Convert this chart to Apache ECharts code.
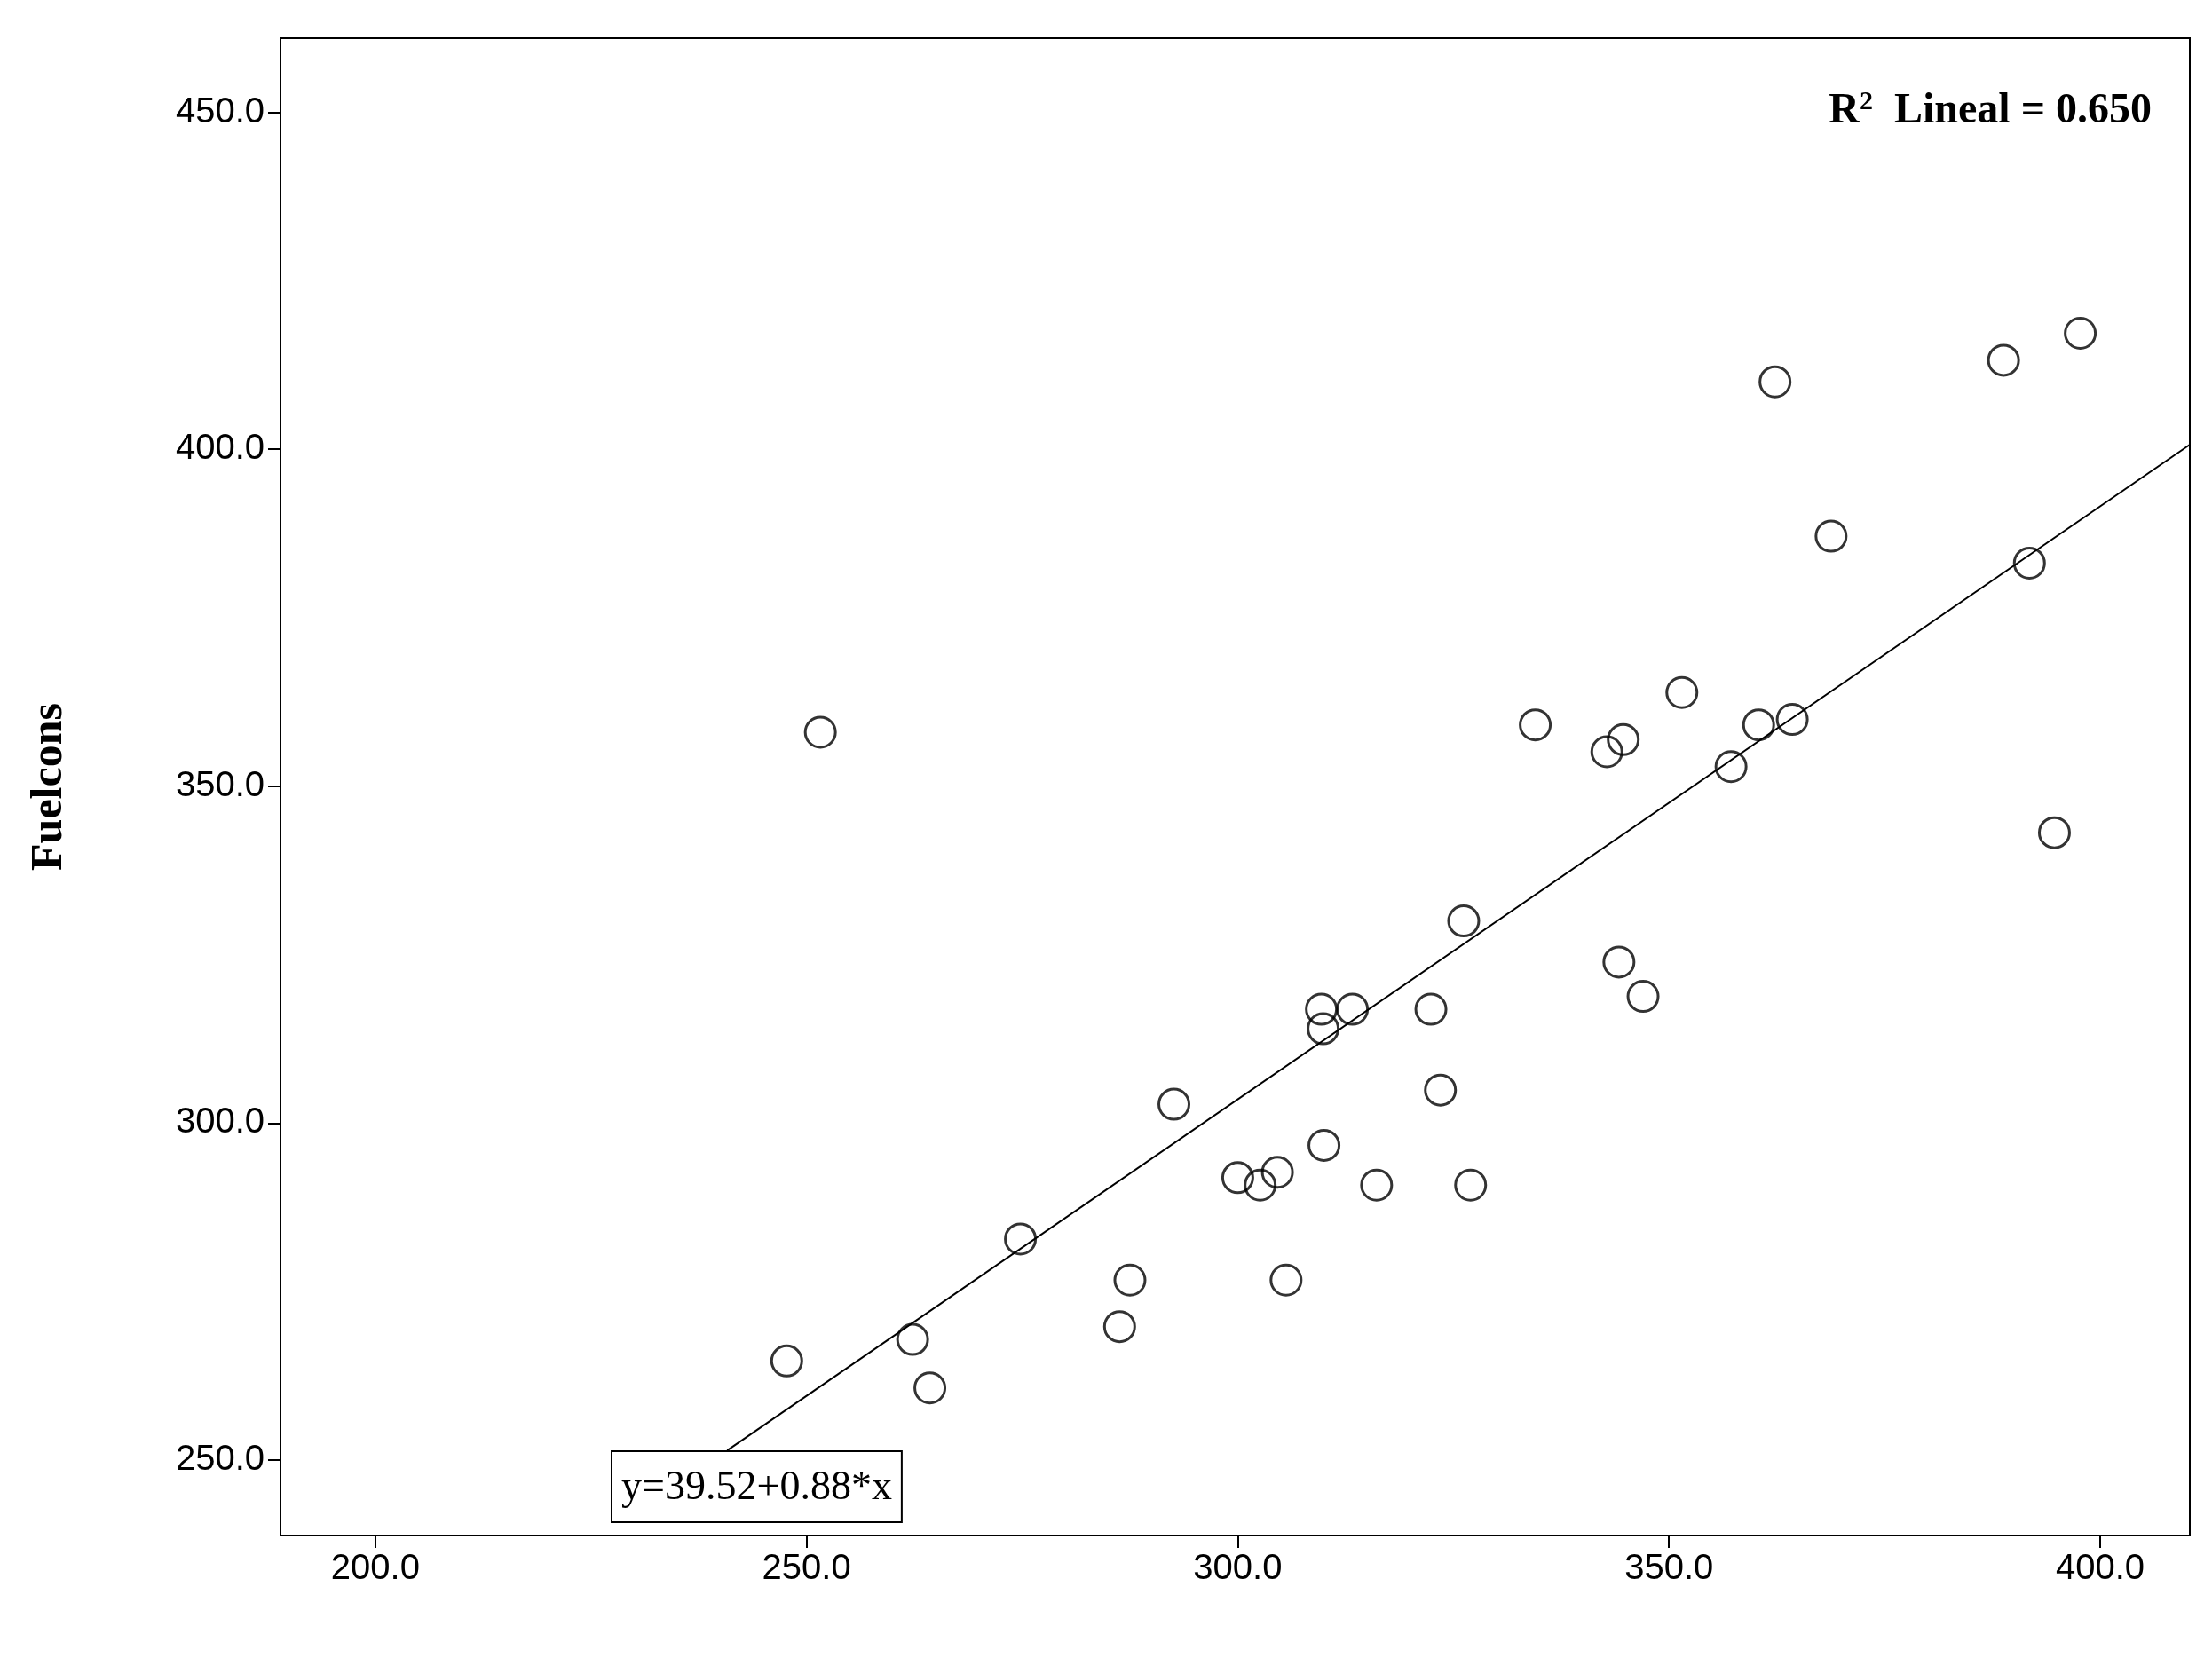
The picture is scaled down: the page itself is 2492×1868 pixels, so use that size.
<!DOCTYPE html>
<html>
<head>
<meta charset="utf-8">
<script src="https://cdn.jsdelivr.net/npm/echarts@6/dist/echarts.min.js"></script>
<style>html,body{margin:0;background:#fff}#chart{width:2492px;height:1868px}</style>
</head>
<body>
<div id="chart"></div>
<script>
// DATA
const xValues = [247.7, 251.6, 262.3, 264.3, 274.8, 286.3, 287.5, 292.6, 300.0, 302.6, 304.6, 305.6, 309.7, 309.9, 310.0, 313.3, 316.1, 322.4, 323.5, 326.2, 327.0, 334.5, 342.8, 344.7, 344.2, 347.0, 351.5, 357.2, 360.4, 364.3, 362.3, 368.8, 388.8, 391.8, 394.7, 397.7];
const yValues = [264.7, 358.0, 267.9, 260.7, 282.8, 269.8, 276.7, 302.8, 291.9, 290.8, 292.7, 276.7, 316.9, 314.0, 296.7, 316.9, 290.8, 316.9, 304.9, 330.0, 290.8, 359.1, 355.1, 356.9, 323.9, 318.8, 363.9, 352.9, 359.1, 359.9, 410.0, 387.1, 413.2, 383.1, 343.1, 417.2];
const xTicks = [200, 250, 300, 350, 400];
const yTicks = [250, 300, 350, 400, 450];
const fitIntercept = 39.52;
const fitSlope = 0.88;
const fitRange = [240.8, 410.4];

const chart = echarts.init(document.getElementById('chart'));

const points = xValues.map((x, i) => [x, yValues[i]]);
const fitLine = fitRange.map(x => [x, fitIntercept + fitSlope * x]);

const option = {
    backgroundColor: '#fff',
    animation: false,
    grid: {
        left: 316, right: 25, top: 43, bottom: 138,
        show: true, borderColor: '#000', borderWidth: 2
    },
    xAxis: {
        type: 'value', min: 189, max: 410.4,
        splitLine: { show: false },
        axisLine: { lineStyle: { color: '#000', width: 2 } },
        axisTick: { customValues: xTicks, length: 14, lineStyle: { color: '#000', width: 2 } },
        axisLabel: {
            customValues: xTicks, margin: 18,
            formatter: v => v.toFixed(1),
            fontFamily: 'Liberation Sans', fontSize: 40, color: '#000'
        }
    },
    yAxis: {
        type: 'value', min: 238.8, max: 461,
        name: 'Fuelcons', nameLocation: 'middle', nameGap: 235,
        nameTextStyle: { fontFamily: 'Liberation Serif', fontWeight: 'bold', fontSize: 50, color: '#000' },
        splitLine: { show: false },
        axisLine: { lineStyle: { color: '#000', width: 2 } },
        axisTick: { customValues: yTicks, length: 14, lineStyle: { color: '#000', width: 2 } },
        axisLabel: {
            customValues: yTicks, margin: 18,
            formatter: v => v.toFixed(1),
            fontFamily: 'Liberation Sans', fontSize: 40, color: '#000'
        }
    },
    series: [
        {
            type: 'line', data: fitLine, symbol: 'none', z: 1,
            lineStyle: { color: '#000', width: 2 }
        },
        {
            type: 'scatter', data: points, symbol: 'circle', symbolSize: 34, z: 2,
            itemStyle: { color: 'rgba(255,255,255,0)', borderColor: '#000', borderWidth: 3 }
        }
    ],
    graphic: [
        {
            type: 'text', right: 68, top: 100, z: 10,
            style: {
                text: '{b|R}{s|2}{b|  Lineal = 0.650}',
                rich: {
                    b: { fontFamily: 'Liberation Serif', fontWeight: 'bold', fontSize: 48, fill: '#000' },
                    s: { fontFamily: 'Liberation Serif', fontWeight: 'bold', fontSize: 30, fill: '#000', verticalAlign: 'top', padding: [0, 0, 22, 0] }
                }
            }
        },
        {
            type: 'text', left: 688, top: 1634, z: 10,
            style: {
                text: 'y=39.52+0.88*x',
                fontFamily: 'Liberation Serif', fontSize: 46, fill: '#000',
                backgroundColor: '#fff', borderColor: '#000', borderWidth: 2,
                padding: [18, 10, 14, 10]
            }
        }
    ]
};

chart.setOption(option);
</script>
</body>
</html>
